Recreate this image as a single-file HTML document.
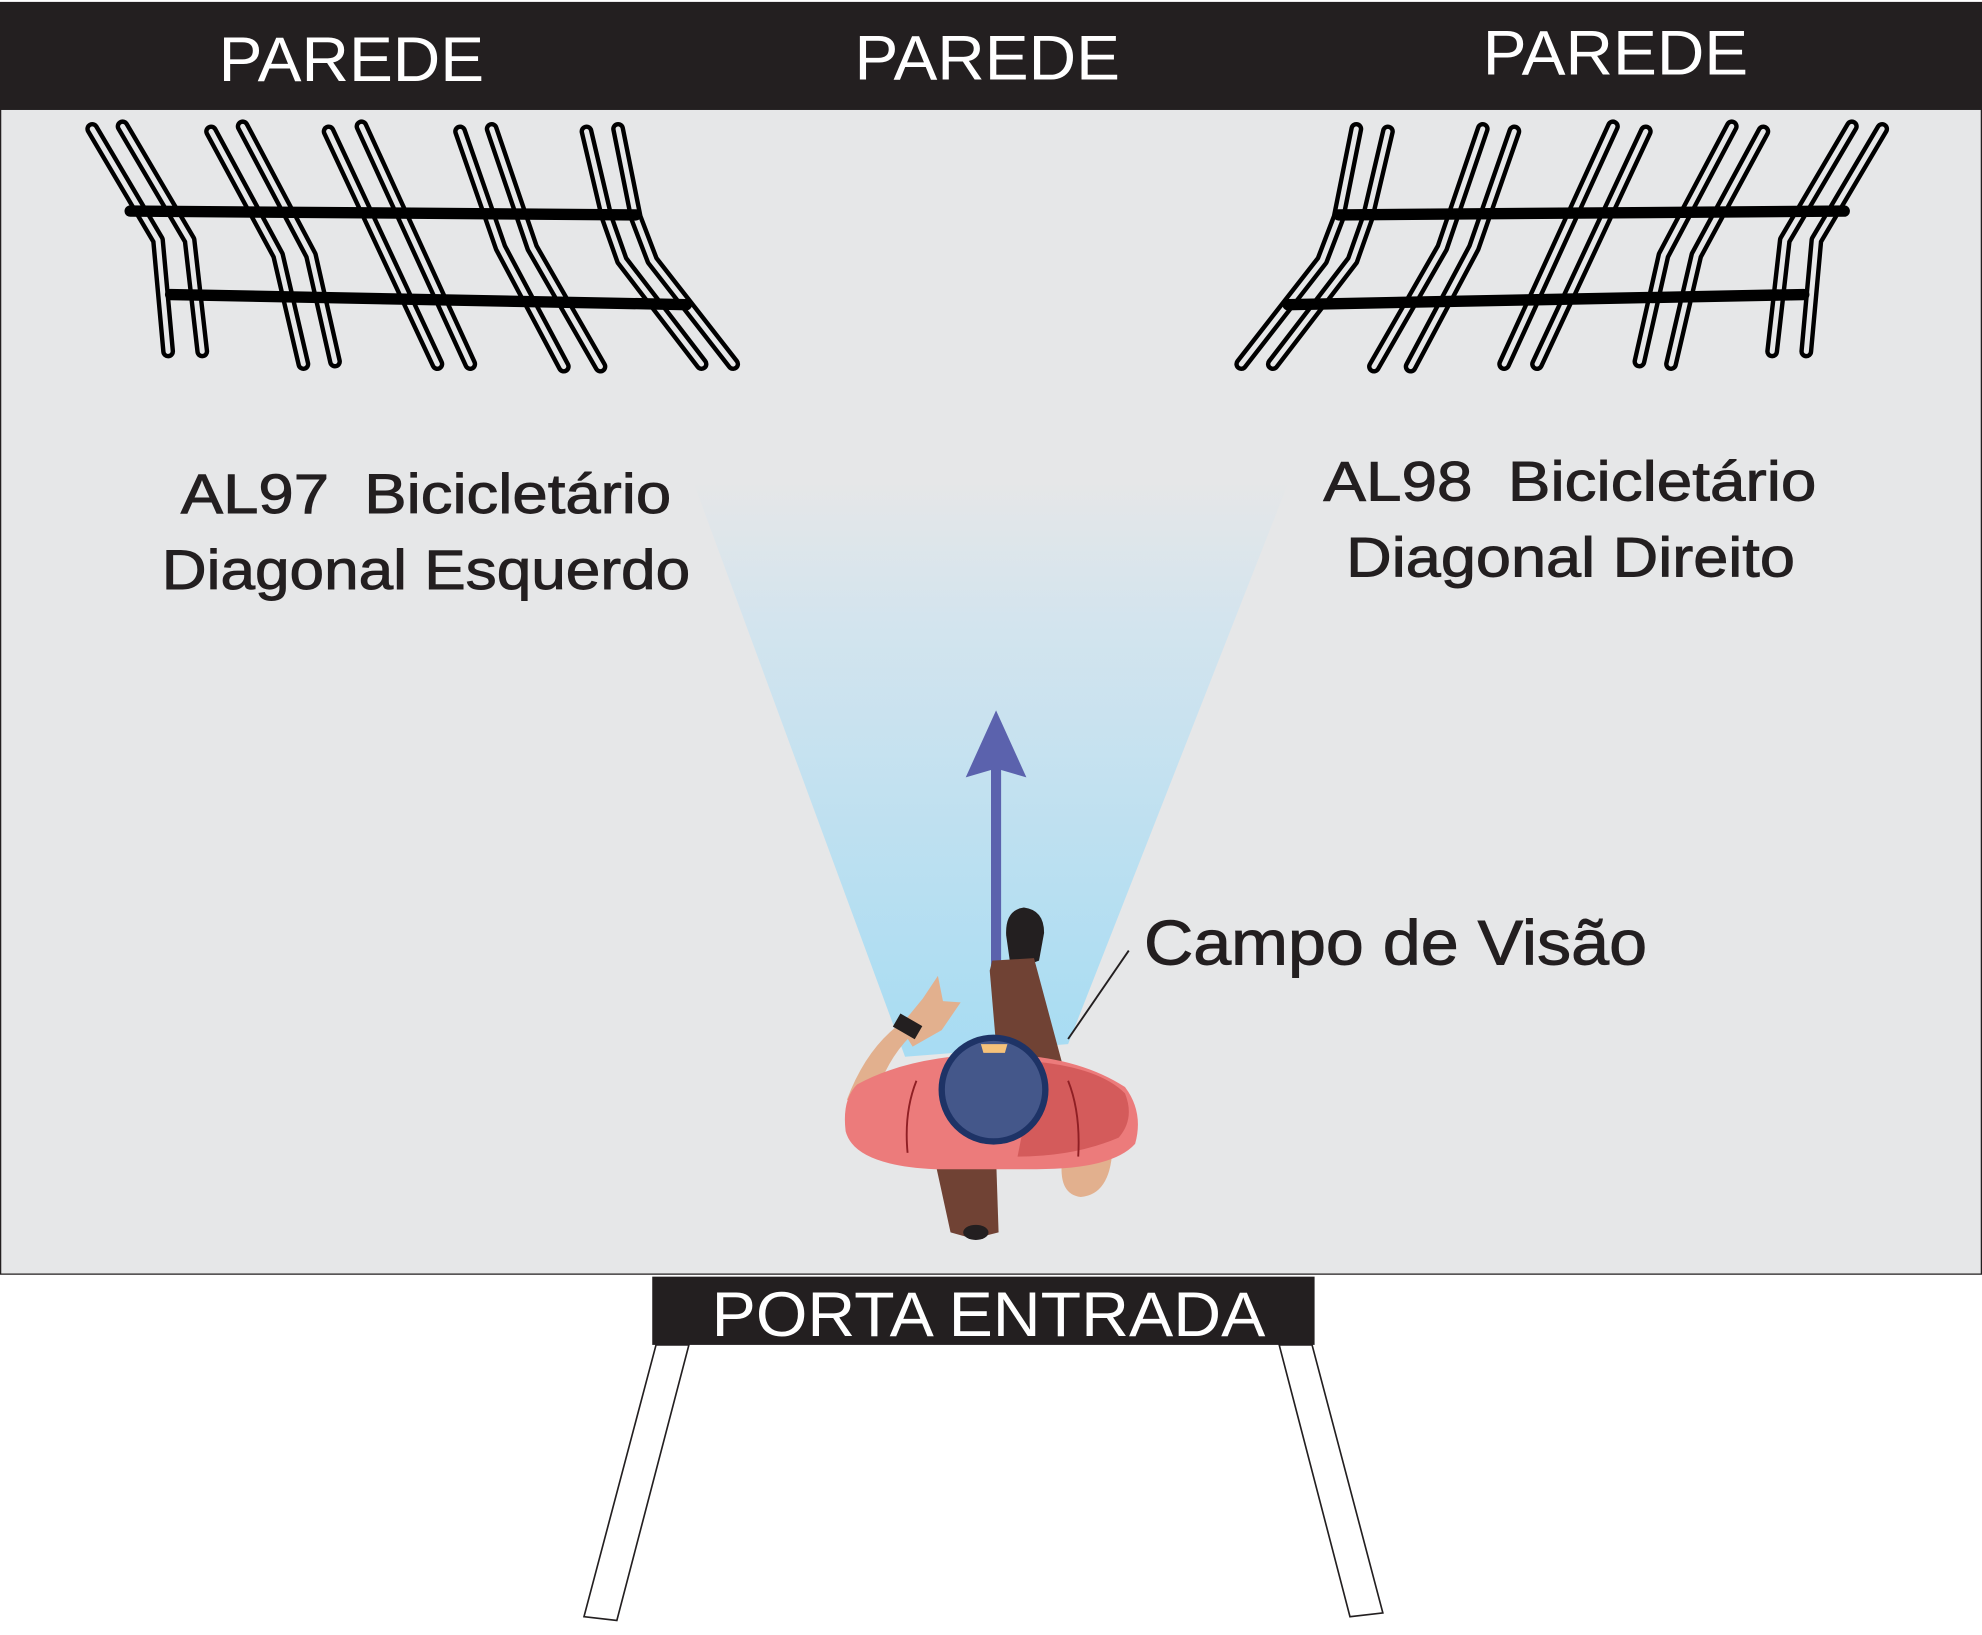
<!DOCTYPE html>
<html><head><meta charset="utf-8"><style>
html,body{margin:0;padding:0;background:#fff}
svg{display:block}
text{font-family:"Liberation Sans",sans-serif}
.lbl{stroke:#231f20;stroke-width:0.7}
</style></head><body>
<svg width="1982" height="1635" viewBox="0 0 1568 1293.5" preserveAspectRatio="none" xmlns="http://www.w3.org/2000/svg">
<defs>
<linearGradient id="fov" x1="0" y1="0" x2="0" y2="1">
<stop offset="0" stop-color="#e6e7e8"/>
<stop offset="0.25" stop-color="#d3e4ee"/>
<stop offset="1" stop-color="#a7dcf3"/>
</linearGradient>
<g id="rack">
<g fill="none" stroke-linecap="round" stroke-linejoin="round">
<g stroke="#000" stroke-width="11">
<path d="M73,102 L125,190 L133,278"/>
<path d="M97,100 L150,190 L160,278"/>
<path d="M167,104 L220,202 L240,288"/>
<path d="M192,100 L246,202 L265,286"/>
<path d="M260,104 L346,288"/>
<path d="M286,100 L372,288"/>
<path d="M364,104 L396,196 L446,290"/>
<path d="M389,102 L421,196 L475,290"/>
<path d="M464,104 L480,172 L492,206 L555,288"/>
<path d="M489,102 L503,172 L516,206 L580,288"/>
</g>
<g stroke="#e6e7e8" stroke-width="4">
<path d="M73,102 L125,190 L133,278"/>
<path d="M97,100 L150,190 L160,278"/>
<path d="M167,104 L220,202 L240,288"/>
<path d="M192,100 L246,202 L265,286"/>
<path d="M260,104 L346,288"/>
<path d="M286,100 L372,288"/>
<path d="M364,104 L396,196 L446,290"/>
<path d="M389,102 L421,196 L475,290"/>
<path d="M464,104 L480,172 L492,206 L555,288"/>
<path d="M489,102 L503,172 L516,206 L580,288"/>
</g>
</g>
<line x1="103" y1="167" x2="503" y2="170" stroke="#000" stroke-width="9" stroke-linecap="round"/>
<line x1="135" y1="233" x2="543" y2="241" stroke="#000" stroke-width="9" stroke-linecap="round"/>
</g>
</defs>
<rect x="0.5" y="2" width="1567" height="1006" fill="#e6e7e8" stroke="#231f20" stroke-width="1"/>
<rect x="0" y="2" width="1568" height="85" fill="#231f20"/>
<text x="278" y="64" font-size="50" fill="#fff" text-anchor="middle" textLength="210" lengthAdjust="spacingAndGlyphs">PAREDE</text>
<text x="781" y="63" font-size="50" fill="#fff" text-anchor="middle" textLength="210" lengthAdjust="spacingAndGlyphs">PAREDE</text>
<text x="1278" y="59" font-size="50" fill="#fff" text-anchor="middle" textLength="210" lengthAdjust="spacingAndGlyphs">PAREDE</text>

<use href="#rack"/>
<use href="#rack" transform="translate(1562,0) scale(-1,1)"/>

<polygon points="548,380 1020,380 845,826 716,836" fill="url(#fov)"/>

<text class="lbl" x="143" y="406" font-size="44" fill="#231f20" textLength="388" lengthAdjust="spacingAndGlyphs">AL97&#160;&#160;Bicicletário</text>
<text class="lbl" x="128" y="466" font-size="44" fill="#231f20" textLength="418" lengthAdjust="spacingAndGlyphs">Diagonal Esquerdo</text>
<text class="lbl" x="1047" y="396" font-size="44" fill="#231f20" textLength="390" lengthAdjust="spacingAndGlyphs">AL98&#160;&#160;Bicicletário</text>
<text class="lbl" x="1065" y="456" font-size="44" fill="#231f20" textLength="355" lengthAdjust="spacingAndGlyphs">Diagonal Direito</text>
<text class="lbl" x="905" y="763" font-size="50" fill="#231f20" textLength="398" lengthAdjust="spacingAndGlyphs">Campo de Visão</text>
<line x1="893" y1="752" x2="845" y2="822" stroke="#231f20" stroke-width="1.5"/>

<!-- arrow -->
<rect x="784" y="605" width="8" height="165" fill="#5b62ad"/>
<polygon points="788,562 812,615 788,608 764,615" fill="#5b62ad"/>

<!-- person -->
<path d="M796,740 Q795,720 810,718 Q826,720 826,738 L822,760 L800,768 Z" fill="#231f20"/>
<path d="M783,768 L785,760 L818,758 L840,840 L790,850 Z" fill="#704234"/>
<path d="M740,920 L788,915 L790,975 L770,980 L752,975 Z" fill="#704234"/>
<ellipse cx="772" cy="975" rx="10" ry="6" fill="#231f20"/>
<path d="M670,870 Q685,830 712,810 L720,820 Q700,840 690,875 Z" fill="#e2b08e"/>
<path d="M712,812 L730,790 L742,772 L746,792 L760,793 L745,815 L722,828 Z" fill="#e2b08e"/>
<rect x="708" y="806" width="20" height="12" transform="rotate(30 718 812)" fill="#231f20"/>
<path d="M840,920 L880,910 Q878,945 855,947 Q838,945 840,920 Z" fill="#e2b08e"/>
<path d="M678,858 Q720,835 786,834 Q850,834 890,860 Q905,880 898,905 Q880,925 820,925 L740,925 Q676,922 669,895 Q666,870 678,858 Z" fill="#ec7b7b"/>
<path d="M820,840 Q870,845 890,865 Q898,885 885,900 Q850,915 805,915 Z" fill="#d45b5b"/>
<path d="M725,855 Q715,880 718,912" stroke="#8f1f24" stroke-width="1.5" fill="none"/>
<path d="M845,855 Q855,880 853,915" stroke="#8f1f24" stroke-width="1.5" fill="none"/>
<circle cx="786" cy="862" r="41" fill="#44578a" stroke="#1e3366" stroke-width="5"/>
<path d="M776,826 L797,826 L795,833 L778,833 Z" fill="#f6c27a"/>

<!-- door -->
<rect x="516" y="1010" width="524" height="54" fill="#231f20"/>
<text x="782" y="1057" font-size="50" fill="#fff" text-anchor="middle" textLength="438" lengthAdjust="spacingAndGlyphs">PORTA ENTRADA</text>
<polygon points="519,1064 545,1064 488,1282 462,1279" fill="#fff" stroke="#231f20" stroke-width="1.3"/>
<polygon points="1012,1064 1038,1064 1094,1276 1068,1279" fill="#fff" stroke="#231f20" stroke-width="1.3"/>
</svg>
</body></html>
